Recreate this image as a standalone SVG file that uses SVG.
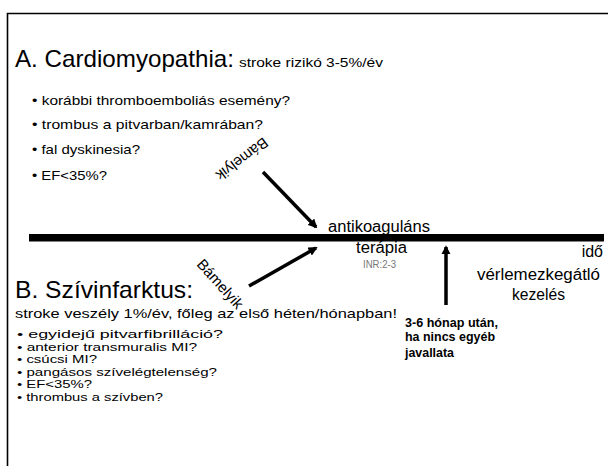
<svg xmlns="http://www.w3.org/2000/svg" width="608" height="466" viewBox="0 0 608 466">
<style>
text{font-family:"Liberation Sans",Arial,sans-serif;fill:#000}
.t24{font-size:24px}
.t13{font-size:13px}
.t11{font-size:11px}
.t16{font-size:16px}
.rot{font-size:15px}
.b{font-size:12px;font-weight:bold}
.conn{stroke:#000;stroke-width:3.5;fill:none;marker-end:url(#ah)}
</style>
<defs>
<marker id="ah" viewBox="0 0 10 10" refX="8" refY="5" markerWidth="2.6" markerHeight="2.6" orient="auto" markerUnits="strokeWidth">
<path d="M0,0 L10,5 L0,10 z" fill="#000"/>
</marker>
</defs>
<rect width="608" height="466" fill="#fff"/>
<g id="frame">
<path d="M7.5,466 V13.5 H608" stroke="#000" stroke-width="1.6" fill="none"/>
</g>
<g id="timeline">
<rect x="29" y="234" width="575" height="7.5" fill="#000"/>
</g>
<g id="connectors">
<line class="conn" x1="263" y1="172" x2="316" y2="227"/>
<line class="conn" x1="249" y1="286" x2="316" y2="248"/>
<line class="conn" x1="446" y1="305" x2="446" y2="247"/>
</g>
<g id="sectionA">
<text class="t24" x="15" y="67" textLength="219" lengthAdjust="spacingAndGlyphs">A. Cardiomyopathia:</text>
<text class="t13" x="239" y="67" textLength="144" lengthAdjust="spacingAndGlyphs">stroke rizikó 3-5%/év</text>
<text class="t13" x="32" y="105" textLength="258" lengthAdjust="spacingAndGlyphs">• korábbi thromboemboliás esemény?</text>
<text class="t13" x="32" y="129" textLength="231" lengthAdjust="spacingAndGlyphs">• trombus a pitvarban/kamrában?</text>
<text class="t13" x="32" y="154" textLength="108" lengthAdjust="spacingAndGlyphs">• fal dyskinesia?</text>
<text class="t13" x="32" y="180" textLength="75" lengthAdjust="spacingAndGlyphs">• EF&lt;35%?</text>
</g>
<g id="labelA">
<text class="rot" text-anchor="middle" transform="translate(242,159) rotate(143)" y="5">Bámelyik</text>
</g>
<g id="labelB">
<text class="rot" text-anchor="middle" transform="translate(220,284) rotate(48)" y="5">Bámelyik</text>
</g>
<g id="anticoag">
<text class="t16" x="328" y="232" textLength="102" lengthAdjust="spacingAndGlyphs">antikoaguláns</text>
<text class="t16" x="356" y="253" textLength="51" lengthAdjust="spacingAndGlyphs">terápia</text>
<text x="363" y="268" font-size="10" style="fill:#777" textLength="33" lengthAdjust="spacingAndGlyphs">INR:2-3</text>
</g>
<g id="ido">
<text class="t16" x="603" y="257" text-anchor="end">idő</text>
</g>
<g id="platelet">
<text class="t16" x="477" y="280" textLength="123" lengthAdjust="spacingAndGlyphs">vérlemezkegátló</text>
<text class="t16" x="512" y="300" textLength="53" lengthAdjust="spacingAndGlyphs">kezelés</text>
</g>
<g id="after">
<text class="b" x="405" y="327" textLength="93" lengthAdjust="spacingAndGlyphs">3-6 hónap után,</text>
<text class="b" x="405" y="341" textLength="90" lengthAdjust="spacingAndGlyphs">ha nincs egyéb</text>
<text class="b" x="405" y="357" textLength="49" lengthAdjust="spacingAndGlyphs">javallata</text>
</g>
<g id="sectionB">
<text class="t24" x="15" y="298" textLength="178" lengthAdjust="spacingAndGlyphs">B. Szívinfarktus:</text>
<text class="t13" x="15" y="318" textLength="382" lengthAdjust="spacingAndGlyphs">stroke veszély 1%/év, főleg az első héten/hónapban!</text>
<text class="t11" x="17" y="338" textLength="206" lengthAdjust="spacingAndGlyphs">• egyidejű pitvarfibrilláció?</text>
<text class="t11" x="17" y="350.5" textLength="180" lengthAdjust="spacingAndGlyphs">• anterior transmuralis MI?</text>
<text class="t11" x="17" y="363" textLength="80" lengthAdjust="spacingAndGlyphs">• csúcsi MI?</text>
<text class="t11" x="17" y="375.5" textLength="200" lengthAdjust="spacingAndGlyphs">• pangásos szívelégtelenség?</text>
<text class="t11" x="17" y="388" textLength="75" lengthAdjust="spacingAndGlyphs">• EF&lt;35%?</text>
<text class="t11" x="17" y="400.5" textLength="146" lengthAdjust="spacingAndGlyphs">• thrombus a szívben?</text>
</g>
</svg>
